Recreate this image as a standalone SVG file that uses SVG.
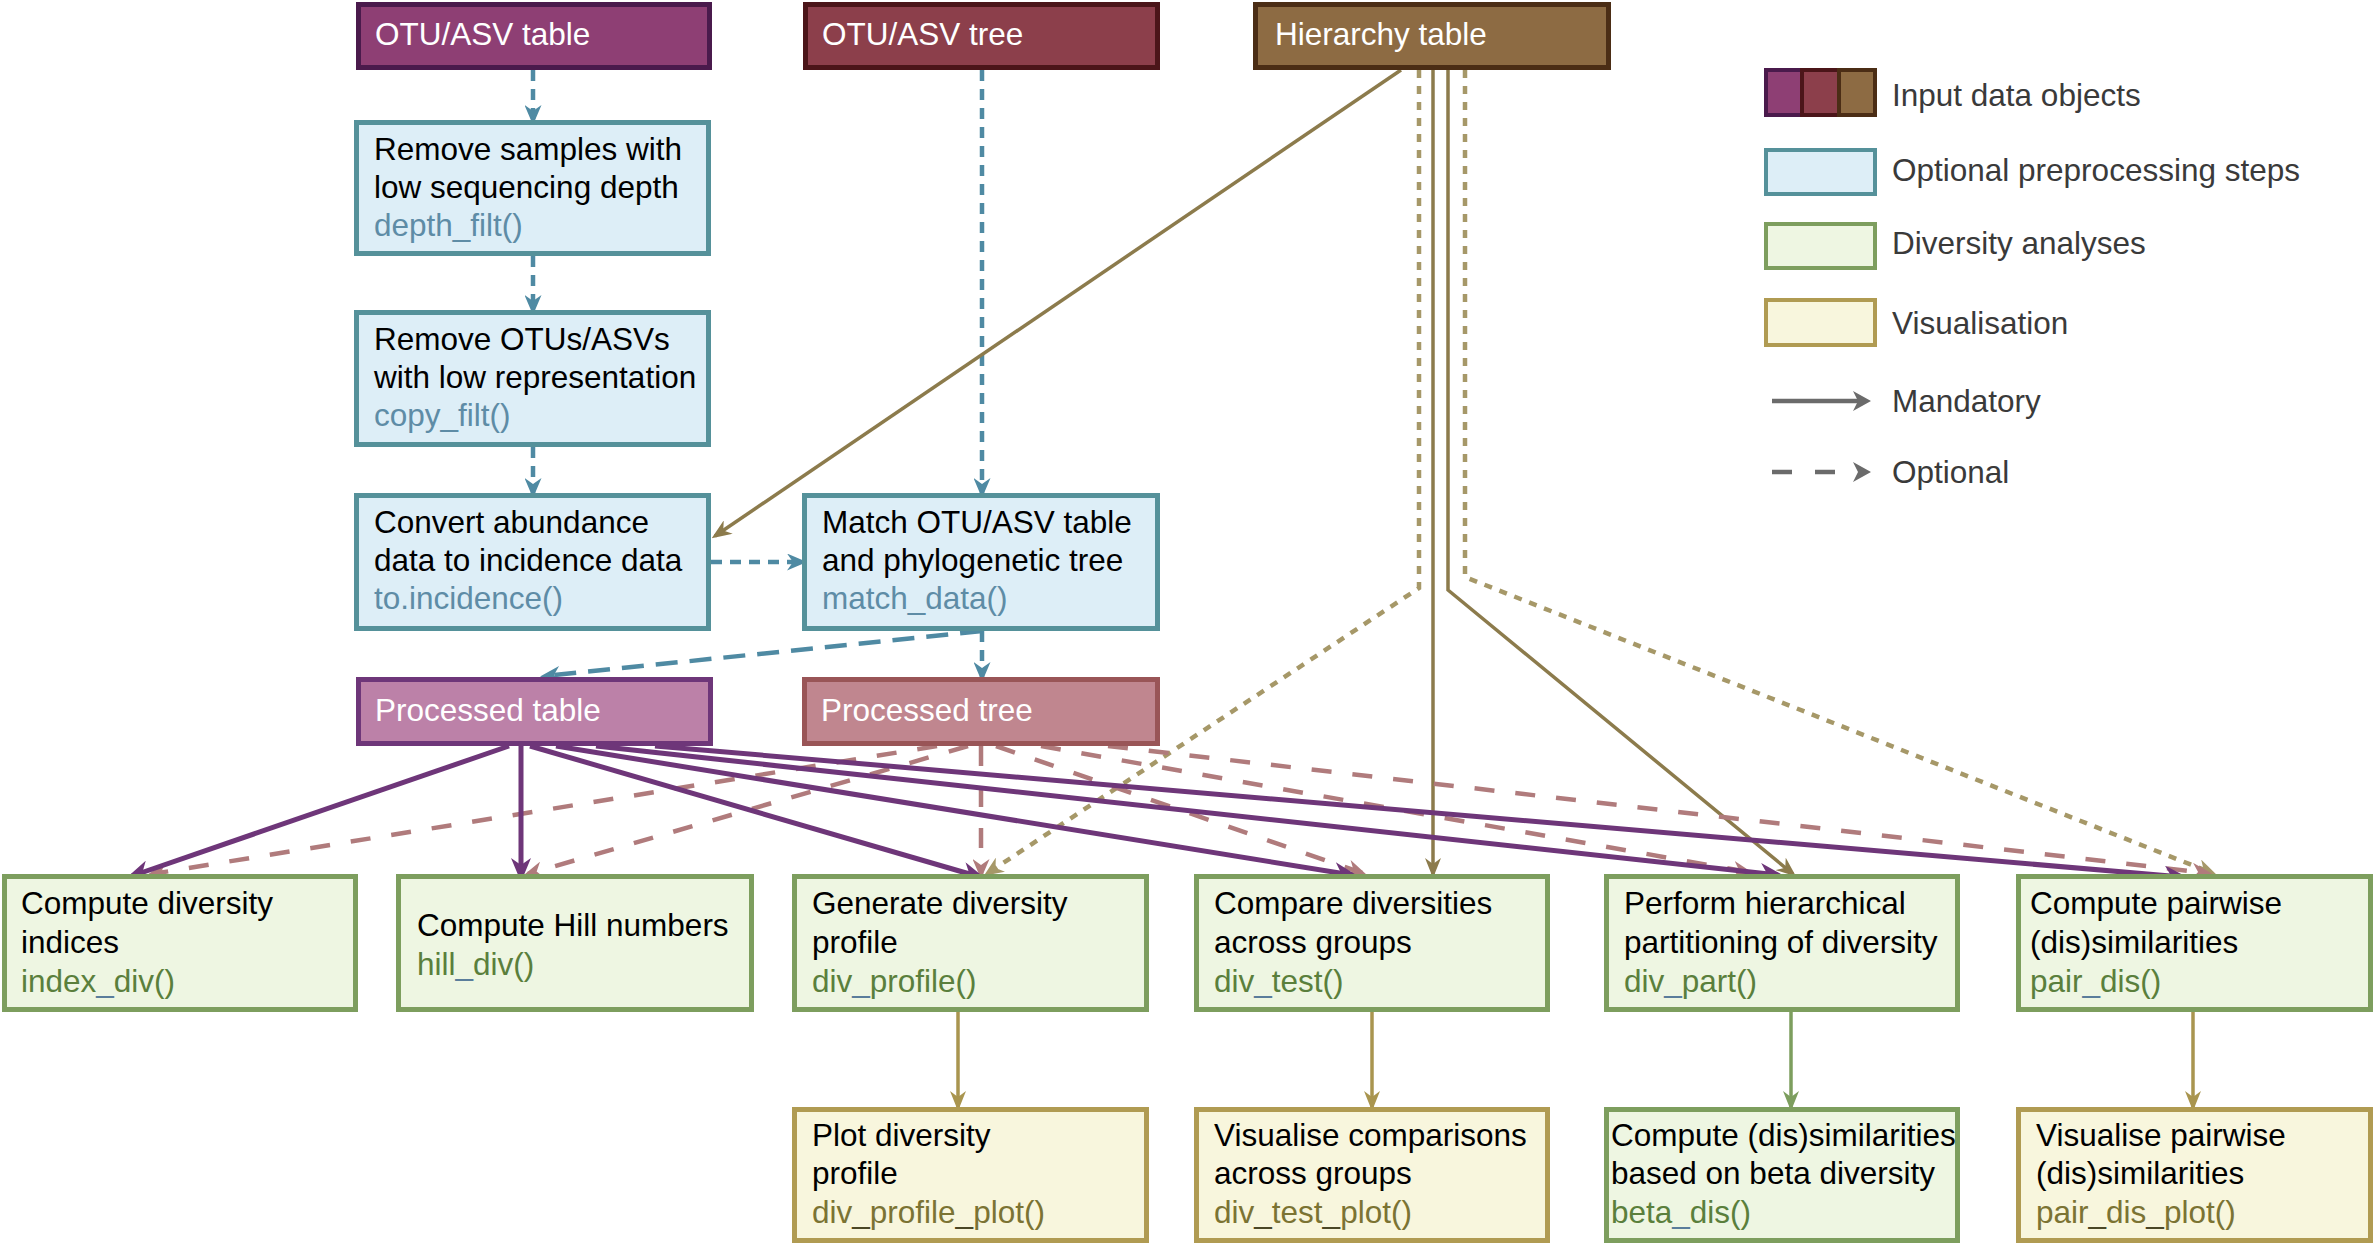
<svg xmlns="http://www.w3.org/2000/svg" width="2375" height="1245" viewBox="0 0 2375 1245">
<style>
  text { font-family: "Liberation Sans", Arial, Helvetica, sans-serif; font-size: 31.5px; }
  .w { fill: #ffffff; }
  .k { fill: #000000; }
  .fp { fill: #5E8CA6; }
  .fd { fill: #5A7F3C; }
  .fv { fill: #7B7333; }
  .ub { fill: #5A7D9B; }
  .uv { fill: #4B4726; }
  .lg { fill: #3A3A3A; }
  .b { stroke-width: 5; }
  .in1 { fill: #8E3F74; stroke: #4A1A4C; }
  .in2 { fill: #8C3F4B; stroke: #4B1519; }
  .in3 { fill: #8D6B43; stroke: #4B2D15; }
  .pre { fill: #DDEEF7; stroke: #55919A; }
  .ptab { fill: #BC81A8; stroke: #6E3679; }
  .ptre { fill: #C0868F; stroke: #995557; }
  .div { fill: #EEF6E2; stroke: #7D9E5E; }
  .vis { fill: #F8F6DD; stroke: #B09B52; }
  .c { fill: none; }
  .teal { stroke: #4F8AA3; stroke-width: 4.5; stroke-dasharray: 11 8; marker-end: url(#aTeal); }
  .purp { stroke: #6E3679; stroke-width: 5; marker-end: url(#aPurp); }
  .rose { stroke: #B07B7C; stroke-width: 4.5; stroke-dasharray: 20 21; marker-end: url(#aRose); }
  .oliv { stroke: #8C7B4C; stroke-width: 3.5; marker-end: url(#aOliv); }
  .dot { stroke: #A69868; stroke-width: 4.5; stroke-dasharray: 8 8; marker-end: url(#aDot); }
  .vline { stroke: #A9954F; stroke-width: 3.5; marker-end: url(#aVis); }
  .gline { stroke: #7D9E5E; stroke-width: 3.5; marker-end: url(#aGrn); }
</style>
<defs>
  <marker id="aPurp" markerUnits="userSpaceOnUse" viewBox="0 0 24 20" markerWidth="24" markerHeight="20" refX="18" refY="10" orient="auto"><path d="M0,0 L24,10 L0,20 L7,10 z" fill="#6E3679"/></marker>
  <marker id="aTeal" markerUnits="userSpaceOnUse" viewBox="0 0 20 17" markerWidth="20" markerHeight="17" refX="15" refY="8.5" orient="auto"><path d="M0,0 L20,8.5 L0,17 L6,8.5 z" fill="#4F8AA3"/></marker>
  <marker id="aRose" markerUnits="userSpaceOnUse" viewBox="0 0 20 17" markerWidth="20" markerHeight="17" refX="15" refY="8.5" orient="auto"><path d="M0,0 L20,8.5 L0,17 L6,8.5 z" fill="#B07B7C"/></marker>
  <marker id="aOliv" markerUnits="userSpaceOnUse" viewBox="0 0 20 16" markerWidth="20" markerHeight="16" refX="16" refY="8" orient="auto"><path d="M0,0 L20,8 L0,16 L6,8 z" fill="#8C7B4C"/></marker>
  <marker id="aDot" markerUnits="userSpaceOnUse" viewBox="0 0 20 17" markerWidth="20" markerHeight="17" refX="15" refY="8.5" orient="auto"><path d="M0,0 L20,8.5 L0,17 L6,8.5 z" fill="#A69868"/></marker>
  <marker id="aVis" markerUnits="userSpaceOnUse" viewBox="0 0 20 16" markerWidth="20" markerHeight="16" refX="16" refY="8" orient="auto"><path d="M0,0 L20,8 L0,16 L6,8 z" fill="#A9954F"/></marker>
  <marker id="aGrn" markerUnits="userSpaceOnUse" viewBox="0 0 20 16" markerWidth="20" markerHeight="16" refX="16" refY="8" orient="auto"><path d="M0,0 L20,8 L0,16 L6,8 z" fill="#7D9E5E"/></marker>
</defs>
<rect width="2375" height="1245" fill="#ffffff"/>

<g id="connectors" class="c">
  <path class="teal" d="M533,70 V120"/>
  <path class="teal" d="M533,256 V310"/>
  <path class="teal" d="M533,447 V493"/>
  <path class="teal" d="M982,70 V493"/>
  <path class="teal" d="M711,562 H802"/>
  <path class="teal" style="stroke-dasharray:22 12" d="M982,631 L545,676"/>
  <path class="teal" d="M982,631 V677"/>
  <path class="oliv" d="M1401,70 L715,536"/>
  <path class="oliv" d="M1433,70 V874"/>
  <path class="oliv" d="M1448,70 V590 L1793,874"/>
  <path class="dot" d="M1419,70 V588 L988,873"/>
  <path class="dot" d="M1465,70 V577 L2212,873"/>
  <path class="rose" d="M937,746 L152,874"/>
  <path class="rose" d="M968,746 L528,874"/>
  <path class="rose" d="M981,746 V874"/>
  <path class="rose" d="M996,746 L1362,873"/>
  <path class="rose" d="M1041,746 L1748,872"/>
  <path class="rose" d="M1108,746 L2207,873"/>
  <path class="purp" d="M509,746 L132,876"/>
  <path class="purp" d="M521,746 V876"/>
  <path class="purp" d="M530,746 L980,877"/>
  <path class="purp" d="M556,746 L1352,875"/>
  <path class="purp" d="M596,746 L1778,875"/>
  <path class="purp" d="M655,746 L2182,877"/>
  <path class="vline" d="M958,1012 V1107"/>
  <path class="vline" d="M1372,1012 V1107"/>
  <path class="gline" d="M1791,1012 V1107"/>
  <path class="vline" d="M2193,1012 V1107"/>
</g>

<g id="otu_table"><rect class="b in1" x="358.5" y="4.5" width="351" height="63"/><text class="w" x="375" y="45">OTU/ASV table</text></g>
<g id="otu_tree"><rect class="b in2" x="805.5" y="4.5" width="352" height="63"/><text class="w" x="822" y="45">OTU/ASV tree</text></g>
<g id="hierarchy_table"><rect class="b in3" x="1255.5" y="4.5" width="353" height="63"/><text class="w" x="1275" y="45">Hierarchy table</text></g>

<g id="remove_samples"><rect class="b pre" x="356.5" y="122.5" width="352" height="131"/>
  <text class="k" x="374" y="160">Remove samples with</text>
  <text class="k" x="374" y="198">low sequencing depth</text>
  <text class="fp" x="374" y="236">depth_filt()</text></g>
<g id="remove_otus"><rect class="b pre" x="356.5" y="312.5" width="352" height="132"/>
  <text class="k" x="374" y="350">Remove OTUs/ASVs</text>
  <text class="k" x="374" y="388">with low representation</text>
  <text class="fp" x="374" y="426">copy_filt()</text></g>
<g id="convert"><rect class="b pre" x="356.5" y="495.5" width="352" height="133"/>
  <text class="k" x="374" y="533">Convert abundance</text>
  <text class="k" x="374" y="571">data to incidence data</text>
  <text class="fp" x="374" y="609">to.incidence()</text></g>
<g id="match"><rect class="b pre" x="804.5" y="495.5" width="353" height="133"/>
  <text class="k" x="822" y="533">Match OTU/ASV table</text>
  <text class="k" x="822" y="571">and phylogenetic tree</text>
  <text class="fp" x="822" y="609">match_data()</text></g>

<g id="processed_table"><rect class="b ptab" x="358.5" y="679.5" width="352" height="64"/><text class="w" x="375" y="721">Processed table</text></g>
<g id="processed_tree"><rect class="b ptre" x="804.5" y="679.5" width="353" height="64"/><text class="w" x="821" y="721">Processed tree</text></g>

<g id="index_div"><rect class="b div" x="4.5" y="876.5" width="351" height="133"/>
  <text class="k" x="21" y="914">Compute diversity</text>
  <text class="k" x="21" y="953">indices</text>
  <text class="fd" x="21" y="992">index<tspan class="ub">_</tspan>div()</text></g>
<g id="hill_div"><rect class="b div" x="398.5" y="876.5" width="353" height="133"/>
  <text class="k" x="417" y="936">Compute Hill numbers</text>
  <text class="fd" x="417" y="975">hill<tspan class="ub">_</tspan>div()</text></g>
<g id="div_profile"><rect class="b div" x="794.5" y="876.5" width="352" height="133"/>
  <text class="k" x="812" y="914">Generate diversity</text>
  <text class="k" x="812" y="953">profile</text>
  <text class="fd" x="812" y="992">div<tspan class="ub">_</tspan>profile()</text></g>
<g id="div_test"><rect class="b div" x="1196.5" y="876.5" width="351" height="133"/>
  <text class="k" x="1214" y="914">Compare diversities</text>
  <text class="k" x="1214" y="953">across groups</text>
  <text class="fd" x="1214" y="992">div<tspan class="ub">_</tspan>test()</text></g>
<g id="div_part"><rect class="b div" x="1606.5" y="876.5" width="351" height="133"/>
  <text class="k" x="1624" y="914">Perform hierarchical</text>
  <text class="k" x="1624" y="953">partitioning of diversity</text>
  <text class="fd" x="1624" y="992">div<tspan class="ub">_</tspan>part()</text></g>
<g id="pair_dis"><rect class="b div" x="2018.5" y="876.5" width="352" height="133"/>
  <text class="k" x="2030" y="914">Compute pairwise</text>
  <text class="k" x="2030" y="953">(dis)similarities</text>
  <text class="fd" x="2030" y="992">pair<tspan class="ub">_</tspan>dis()</text></g>

<g id="div_profile_plot"><rect class="b vis" x="794.5" y="1109.5" width="352" height="131"/>
  <text class="k" x="812" y="1146">Plot diversity</text>
  <text class="k" x="812" y="1184">profile</text>
  <text class="fv" x="812" y="1223">div<tspan class="uv">_</tspan>profile<tspan class="uv">_</tspan>plot()</text></g>
<g id="div_test_plot"><rect class="b vis" x="1196.5" y="1109.5" width="351" height="131"/>
  <text class="k" x="1214" y="1146">Visualise comparisons</text>
  <text class="k" x="1214" y="1184">across groups</text>
  <text class="fv" x="1214" y="1223">div<tspan class="uv">_</tspan>test<tspan class="uv">_</tspan>plot()</text></g>
<g id="beta_dis"><rect class="b div" x="1606.5" y="1109.5" width="351" height="131"/>
  <text class="k" x="1611" y="1146">Compute (dis)similarities</text>
  <text class="k" x="1611" y="1184">based on beta diversity</text>
  <text class="fd" x="1611" y="1223">beta<tspan class="ub">_</tspan>dis()</text></g>
<g id="pair_dis_plot"><rect class="b vis" x="2018.5" y="1109.5" width="352" height="131"/>
  <text class="k" x="2036" y="1146">Visualise pairwise</text>
  <text class="k" x="2036" y="1184">(dis)similarities</text>
  <text class="fv" x="2036" y="1223">pair<tspan class="uv">_</tspan>dis<tspan class="uv">_</tspan>plot()</text></g>

<g id="legend">
  <rect class="in1" stroke-width="4" x="1766" y="70" width="36" height="45"/>
  <rect class="in2" stroke-width="4" x="1802" y="70" width="37" height="45"/>
  <rect class="in3" stroke-width="4" x="1839" y="70" width="36" height="45"/>
  <text class="lg" x="1892" y="106">Input data objects</text>
  <rect class="pre" stroke-width="4" x="1766" y="150" width="109" height="44"/>
  <text class="lg" x="1892" y="181">Optional preprocessing steps</text>
  <rect class="div" stroke-width="4" x="1766" y="224" width="109" height="44"/>
  <text class="lg" x="1892" y="254">Diversity analyses</text>
  <rect class="vis" stroke-width="4" x="1766" y="300" width="109" height="45"/>
  <text class="lg" x="1892" y="334">Visualisation</text>
  <path d="M1772,401 H1858" stroke="#6B6B6B" stroke-width="4.5" fill="none"/>
  <path d="M1853,391 L1871,401 L1853,411 L1858,401 z" fill="#6B6B6B"/>
  <text class="lg" x="1892" y="412">Mandatory</text>
  <path d="M1772,472 H1846" stroke="#6B6B6B" stroke-width="4.5" stroke-dasharray="20 23" fill="none"/>
  <path d="M1853,462 L1871,472 L1853,482 L1858,472 z" fill="#6B6B6B"/>
  <text class="lg" x="1892" y="483">Optional</text>
</g>
</svg>
